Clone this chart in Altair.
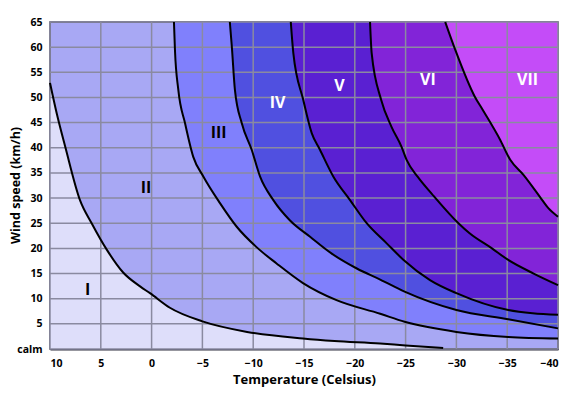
import altair as alt
import pandas as pd

# Boundary curves (Temperature °C, Wind speed km/h)
c1_T = [10, 9.3, 8.5, 7.05, 5.9, 4.4, 2.8, 1.1, 0.16, -1.8, -5.0, -9.4, -14.9, -18.0, -22.5, -25.0, -28.7]
c1_W = [52.9, 46.5, 40.2, 29.6, 25.0, 19.7, 15.2, 12.4, 11.1, 8.2, 5.5, 3.4, 2.1, 1.6, 1.1, 0.7, 0.2]

c2_T = [-2.2, -2.3, -2.63, -3.29, -4.1, -5.09, -6.73, -8.38, -10.3, -12.3, -14.9, -18.2, -22.5, -24.9, -30.0, -35.1, -40]
c2_W = [65, 59.4, 51.5, 44.9, 38.2, 34.3, 29.0, 24.3, 20.3, 17.0, 13.1, 9.7, 7.0, 5.4, 3.4, 2.4, 2.1]

c3_T = [-7.7, -7.9, -8.2, -8.87, -9.85, -10.67, -11.98, -13.6, -15.6, -17.7, -20.2, -22.5, -24.9, -30.0, -35.1, -40]
c3_W = [65, 60.0, 51.5, 44.9, 39.6, 34.3, 29.6, 25.6, 22.3, 19.0, 16.0, 13.8, 11.4, 7.75, 5.9, 4.1]

c4_T = [-13.7, -13.95, -14.93, -15.76, -16.57, -17.88, -19.53, -21.17, -23.14, -24.8, -27.4, -30.0, -35.1, -37.5, -40]
c4_W = [65, 58.8, 49.5, 42.9, 39.6, 34.3, 29.6, 25.0, 21.0, 17.7, 13.7, 11.1, 7.75, 7.1, 6.8]

c5_T = [-21.5, -21.66, -22.6, -23.6, -24.6, -25.1, -26.2, -27.6, -30.2, -31.3, -33.5, -35.1, -37.6, -40]
c5_W = [65, 58.8, 49.5, 44.2, 40.2, 37.6, 34.2, 30.8, 25.0, 23.0, 20.0, 17.7, 15.0, 12.7]

c6_T = [-28.9, -29.9, -31.8, -32.6, -34.3, -35.3, -36.6, -38.2, -39.05, -40]
c6_W = [65, 59.4, 50.2, 47.5, 41.6, 37.6, 34.6, 30.3, 28.0, 26.3]

curves = [(c1_T, c1_W), (c2_T, c2_W), (c3_T, c3_W), (c4_T, c4_W), (c5_T, c5_W), (c6_T, c6_W)]

region_colors = ["#dedefa", "#a8a8f4", "#8080fc", "#5050e0", "#5a20d2", "#8224d8", "#c44cf8"]

# Region labels
lab_text = ["I", "II", "III", "IV", "V", "VI", "VII"]
lab_T = [6.3, 0.55, -6.6, -12.4, -18.5, -27.2, -37.0]
lab_W = [11.7, 32.0, 42.9, 48.9, 52.3, 53.5, 53.5]
lab_col = ["#000000", "#000000", "#000000", "#ffffff", "#ffffff", "#ffffff", "#ffffff"]

x_ticks = [10, 5, 0, -5, -10, -15, -20, -25, -30, -35, -40]
y_ticks = [0, 5, 10, 15, 20, 25, 30, 35, 40, 45, 50, 55, 60, 65]

FONT = "Open Sans"

xscale = alt.Scale(domain=[-40, 10], reverse=True, nice=False, zero=False)
yscale = alt.Scale(domain=[0, 65], nice=False, zero=False)

xaxis = alt.Axis(values=x_ticks, title="Temperature (Celsius)", grid=False, ticks=False,
                 labelPadding=9, labelOverlap=False, domain=True, domainColor="#303040", domainWidth=2,
                 labelFont=FONT, labelFontSize=10.5, labelFontWeight="bold", labelColor="#000000",
                 titleFont=FONT, titleFontSize=13, titleFontWeight="bold", titlePadding=5,
                 titleColor="#000000")
yaxis = alt.Axis(values=y_ticks, title="Wind speed (km/h)", grid=False, ticks=False,
                 labelPadding=8, labelOverlap=False, domain=False,
                 labelExpr="datum.value == 0 ? 'calm' : datum.label",
                 labelFont=FONT, labelFontSize=10.5, labelFontWeight="bold", labelColor="#000000",
                 titleFont=FONT, titleFontSize=12.5, titleFontWeight="bold",
                 titleX=-35, titleY=163, titleAngle=270, titleAlign="center", titleBaseline="middle",
                 titleColor="#000000")

X = alt.X("T:Q", scale=xscale, axis=xaxis)
Y = alt.Y("W:Q", scale=yscale, axis=yaxis)


def curve_df(T, W):
    return pd.DataFrame({"T": T, "W": W, "i": list(range(len(T)))})


layers = []

# Region I: below the first curve
df1 = curve_df(*curves[0])
layers.append(
    alt.Chart(df1).mark_area(color=region_colors[0], interpolate="monotone").encode(
        x=X, y=Y, y2=alt.datum(0),
    )
)

# Regions III..VII: above each subsequent curve
for k in range(1, 6):
    d = curve_df(*curves[k])
    layers.append(
        alt.Chart(d).mark_area(color=region_colors[k + 1], interpolate="monotone").encode(
            x=X, y=Y, y2=alt.datum(65),
        )
    )

# Grid rules
layers.append(
    alt.Chart(pd.DataFrame({"T": x_ticks})).mark_rule(color="#8a8aa0", strokeWidth=1.5).encode(x=X)
)
layers.append(
    alt.Chart(pd.DataFrame({"W": y_ticks})).mark_rule(color="#8a8aa0", strokeWidth=1.5).encode(y=Y)
)

# Boundary lines
for k in range(6):
    d = curve_df(*curves[k])
    layers.append(
        alt.Chart(d).mark_line(color="#000000", strokeWidth=2, interpolate="monotone").encode(
            x=X, y=Y, order="i:Q",
        )
    )

# Region labels
labels = pd.DataFrame({"txt": lab_text, "T": lab_T, "W": lab_W, "c": lab_col})
layers.append(
    alt.Chart(labels).mark_text(font=FONT, fontSize=16, fontWeight="bold").encode(
        x=X, y=Y,
        text="txt:N",
        color=alt.Color("c:N", scale=None),
    )
)

chart = alt.layer(*layers).properties(
    width=508, height=327,
    autosize=alt.AutoSizeParams(type="none"),
    padding={"left": 42, "top": 14, "right": 14, "bottom": 40},
    background="#ffffff",
).configure_view(
    fill=region_colors[1], stroke="#404050", strokeWidth=1.5
)

chart.save("out.html", embed_options={"renderer": "svg", "actions": False})
